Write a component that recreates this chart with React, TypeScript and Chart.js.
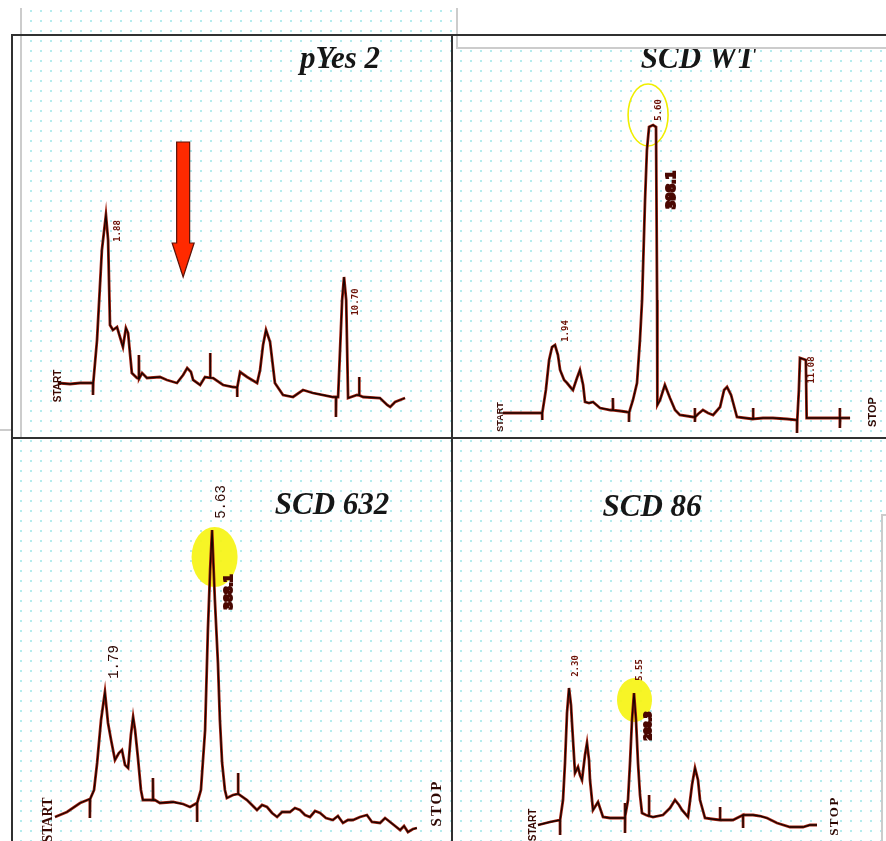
import { useEffect, useRef } from "react";
import { Chart, registerables } from "chart.js";

Chart.register(...registerables);

type Pair = [number, number];

// Chromatogram traces: [retention time (min), detector signal (mV)]
const pYes2Trace: Pair[] = [
  [0.1, 0.5], [0.55, 0.25], [0.92, 0.5], [1.4, 0.5], [1.4, -2.5], [1.41, 0.5],
  [1.55, 11.25], [1.73, 33.75], [1.88, 42.5], [1.96, 36.25], [2.03, 15], [2.14, 13.75],
  [2.29, 14.5], [2.4, 12], [2.51, 9.5], [2.62, 14.25], [2.7, 13], [2.84, 3], [3.03, 1.75],
  [3.1, 1.6], [3.1, 7.5], [3.11, 1.6], [3.22, 3], [3.4, 1.75], [3.88, 2], [4.14, 1.25],
  [4.51, 0.5], [4.74, 2.5], [4.89, 4.25], [5.03, 3.25], [5.11, 1.25], [5.37, 0], [5.55, 2],
  [5.74, 1.8], [5.74, 8], [5.75, 1.8], [5.85, 1.75], [6.22, 0], [6.59, -0.5], [6.74, -0.6],
  [6.74, -3], [6.75, -0.6], [6.85, 3.25], [7.11, 2], [7.48, 0.5], [7.59, 3.75], [7.7, 10],
  [7.81, 13.75], [7.96, 10.75], [8.14, 0.5], [8.44, -2.5], [8.81, -3], [9.18, -1.25],
  [9.55, -2], [10.29, -3], [10.4, -3], [10.4, -8], [10.41, -3], [10.48, -3], [10.63, 21.25],
  [10.7, 27], [10.78, 21.25], [10.85, -3.25], [11.18, -2.5], [11.26, -2.6], [11.26, 2],
  [11.27, -2.6], [11.41, -3], [12.03, -3.25], [12.3, -5], [12.41, -5.5], [12.59, -4.25],
  [12.96, -3.25],
];

const scdWtTrace: Pair[] = [
  [0, 0], [0.63, 0], [1.46, 0], [1.46, -1.75], [1.47, 0], [1.6, 5.75], [1.72, 13.25],
  [1.83, 16.5], [1.94, 17], [2.05, 14.5], [2.13, 10.75], [2.28, 8.25], [2.39, 7.5],
  [2.54, 6.25], [2.61, 5.75], [2.76, 8.75], [2.87, 10.75], [2.99, 7], [3.06, 2.75],
  [3.21, 2.5], [3.36, 2.75], [3.62, 1.25], [4.0, 0.75], [4.1, 0.7], [4.1, 3.75], [4.11, 0.7],
  [4.37, 0.5], [4.63, 0.25], [4.7, 0.2], [4.7, -2.25], [4.71, 0.2], [4.85, 3.25], [5.0, 7.5],
  [5.11, 18.25], [5.19, 28.25], [5.3, 53.25], [5.37, 65.75], [5.45, 71.5], [5.6, 72],
  [5.71, 71.5], [5.75, 28.25], [5.76, 2], [5.86, 3.25], [6.04, 7], [6.23, 3.75], [6.42, 0.75],
  [6.6, -0.5], [7.09, -1], [7.16, -1], [7.16, 1.25], [7.16, -2.25], [7.17, -1], [7.28, -0.25],
  [7.46, 0.75], [7.65, 0], [7.84, -0.5], [8.1, 1.5], [8.25, 5.75], [8.36, 6.5], [8.51, 4.5],
  [8.73, -1], [9.03, -1.25], [9.33, -1.5], [9.33, 1.25], [9.34, -1.5], [9.7, -1.25],
  [10.07, -1.25], [10.6, -1.5], [10.97, -1.75], [10.97, -5], [10.98, -1.75], [11.04, 5.75],
  [11.08, 13.75], [11.3, 13.25], [11.33, -1.25], [11.83, -1.25], [12.57, -1.25], [12.57, 1.25],
  [12.57, -3.75], [12.58, -1.25], [12.95, -1.25],
];

const scd632Trace: Pair[] = [
  [0, -3], [0.43, -1.75], [0.9, 0.5], [1.25, 1.5], [1.25, -3.25], [1.26, 1.5], [1.4, 3.75],
  [1.51, 10.5], [1.65, 21.25], [1.79, 28.25], [1.9, 20.5], [2.01, 16.25], [2.15, 11.25],
  [2.29, 13], [2.4, 13.75], [2.51, 10], [2.62, 9.25], [2.72, 17.5], [2.8, 22], [2.87, 18.75],
  [2.97, 12], [3.08, 3.75], [3.15, 1.25], [3.41, 1.25], [3.51, 1.2], [3.51, 6.75], [3.52, 1.2],
  [3.58, 1.25], [3.76, 0.5], [4.23, 0.75], [4.59, 0.25], [4.84, -0.5], [5.09, 0.5],
  [5.09, -4.25], [5.1, 0.5], [5.23, 3.75], [5.38, 18.75], [5.48, 43.75], [5.56, 58.75],
  [5.63, 68.75], [5.73, 51.25], [5.84, 35.5], [5.91, 21.25], [5.99, 10.5], [6.09, 3.75],
  [6.16, 1.75], [6.38, 2.5], [6.56, 2.8], [6.56, 8], [6.57, 2.8], [6.88, 1.25], [7.06, 0],
  [7.24, -1.25], [7.42, 0], [7.6, -0.5], [7.78, -2], [7.96, -3], [8.14, -1.75], [8.42, -1.75],
  [8.6, -0.75], [8.78, -1.25], [8.96, -2.5], [9.14, -3], [9.32, -1.5], [9.5, -2], [9.71, -3.25],
  [9.96, -3.75], [10.14, -2.75], [10.32, -4.5], [10.5, -3.75], [10.68, -3.75], [10.93, -3],
  [11.18, -2.5], [11.36, -4.25], [11.65, -4.5], [11.83, -3.25], [12.01, -4.25], [12.19, -5.25],
  [12.37, -6.25], [12.51, -5.25], [12.65, -6.75], [12.83, -6], [12.97, -5.75],
];

const scd86Trace: Pair[] = [
  [0.75, -1.75], [1.35, -1], [1.85, -0.5], [1.85, -4.25], [1.86, -0.5], [2.0, 4.5], [2.1, 13.75],
  [2.2, 26.25], [2.3, 32.5], [2.4, 28.25], [2.45, 23.75], [2.6, 11.25], [2.75, 12.75],
  [2.85, 10.75], [2.95, 9.5], [3.1, 15.75], [3.2, 18.75], [3.3, 14.5], [3.35, 9.5], [3.5, 2],
  [3.75, 4], [4.0, 0.25], [4.35, 0], [4.7, 0], [5.1, 0], [5.1, 3.75], [5.1, -3.75], [5.11, 0.5],
  [5.25, 4.5], [5.35, 13.75], [5.45, 24.5], [5.55, 31.25], [5.65, 24.5], [5.75, 13.75],
  [5.85, 5.75], [5.95, 1.25], [6.15, 0.75], [6.3, 0.5], [6.3, 5.75], [6.31, 0.5], [6.5, 0.25],
  [7.0, 0.75], [7.35, 2.5], [7.6, 4.5], [7.8, 3.25], [7.95, 2], [8.25, 0.25], [8.45, 8.25],
  [8.6, 12.5], [8.75, 9.5], [8.85, 4.5], [9.1, 0], [9.45, -0.25], [9.85, -0.5], [9.85, 2.75],
  [9.86, -0.5], [10.5, -0.5], [11.0, 0.75], [11.0, -2.5], [11.01, 0.75], [11.5, 0.75],
  [11.85, 0.5], [12.2, 0], [12.7, -1.25], [13.35, -2.25], [14.0, -2.25], [14.35, -1.75],
  [14.7, -1.75],
];

// Visible time / signal windows of each run
const pYes2TimeRange = [-1.6, 14.7];
const pYes2SignalRange = [-13.25, 87.5];
const scdWtTimeRange = [-1.903, 14.291];
const scdWtSignalRange = [-6.25, 94.5];
const scd632TimeRange = [-1.541, 14.229];
const scd632SignalRange = [-9, 91.75];
const scd86TimeRange = [-3.55, 18.15];
const scd86SignalRange = [-5.75, 95];

// Retention times printed by the integrator
const pYes2Peaks = [1.88, 10.7];
const scdWtPeaks = [1.94, 5.6, 11.08];
const scd632Peaks = [1.79, 5.63];
const scd86Peaks = [2.3, 5.55];

// Areas printed beside the main peak
const scdWtArea = "398.1";
const scd632Area = "388.1";
const scd86Area = "288.3";

const titles = ["pYes 2", "SCD WT", "SCD 632", "SCD 86"];

type Offset = { dx: number; dy: number };
type TextMark = Offset & { font: string; spacing?: number };
type Panel = {
  title: string;
  titlePos: [number, number];
  box: { left: number; top: number; width: number; height: number };
  trace: Pair[];
  xRange: number[];
  yRange: number[];
  peaks: number[];
  peakOffsets: Offset[];
  peakFont: string;
  area?: { t: number; text: string; dx: number; dy: number; font: string };
  ring?: { t: number; dx: number; dy: number; rx: number; ry: number; fill: boolean };
  start: TextMark;
  stop?: TextMark;
  arrow?: { t: number; tip: number; tail: number };
};

const tinyFont = 'bold 9px "DejaVu Sans Mono"';

const panels: Panel[] = [
  {
    title: titles[0],
    titlePos: [328, 25],
    box: { left: 12, top: 35, width: 440, height: 403 },
    trace: pYes2Trace,
    xRange: pYes2TimeRange,
    yRange: pYes2SignalRange,
    peaks: pYes2Peaks,
    peakOffsets: [{ dx: 12, dy: 16 }, { dx: 12, dy: 25 }],
    peakFont: tinyFont,
    start: { dx: 0, dy: 3, font: 'bold 10px "Liberation Sans"' },
    arrow: { t: 4.74, tip: 27, tail: 60.75 },
  },
  {
    title: titles[1],
    titlePos: [246, 25],
    box: { left: 452, top: 35, width: 434, height: 403 },
    trace: scdWtTrace,
    xRange: scdWtTimeRange,
    yRange: scdWtSignalRange,
    peaks: scdWtPeaks,
    peakOffsets: [{ dx: 11, dy: -14 }, { dx: 6, dy: -15 }, { dx: 12, dy: 12 }],
    peakFont: tinyFont,
    area: { t: 5.6, text: scdWtArea, dx: 19, dy: 65, font: 'bold 12px "DejaVu Sans"' },
    ring: { t: 5.6, dx: -5, dy: -10, rx: 20, ry: 31, fill: false },
    start: { dx: -2, dy: 4, font: 'bold 9px "Liberation Sans"' },
    stop: { dx: 23, dy: -6, font: 'bold 11px "Liberation Sans"' },
  },
  {
    title: titles[2],
    titlePos: [320, 68],
    box: { left: 12, top: 438, width: 440, height: 403 },
    trace: scd632Trace,
    xRange: scd632TimeRange,
    yRange: scd632SignalRange,
    peaks: scd632Peaks,
    peakOffsets: [{ dx: 9, dy: -30 }, { dx: 9, dy: -28 }],
    peakFont: '14px "Liberation Mono"',
    area: { t: 5.63, text: scd632Area, dx: 17, dy: 62, font: 'bold 11px "DejaVu Sans"' },
    ring: { t: 5.63, dx: 2.5, dy: 27, rx: 23, ry: 30, fill: true },
    start: { dx: -7, dy: 3, font: 'bold 14px "Liberation Serif"' },
    stop: { dx: 20, dy: -25, font: 'bold 15px "Liberation Serif"', spacing: 2 },
  },
  {
    title: titles[3],
    titlePos: [200, 70],
    box: { left: 452, top: 438, width: 434, height: 403 },
    trace: scd86Trace,
    xRange: scd86TimeRange,
    yRange: scd86SignalRange,
    peaks: scd86Peaks,
    peakOffsets: [{ dx: 7, dy: -22 }, { dx: 6, dy: -23 }],
    peakFont: tinyFont,
    area: { t: 5.55, text: scd86Area, dx: 15, dy: 33, font: 'bold 9px "DejaVu Sans"' },
    ring: { t: 5.55, dx: 0.5, dy: 7, rx: 17.5, ry: 22, fill: true },
    start: { dx: -5, dy: 0, font: 'bold 10px "Liberation Sans"' },
    stop: { dx: 18, dy: -9, font: 'bold 13px "Liberation Serif"', spacing: 1.5 },
  },
];

// highest signal recorded at a given retention time
function peakSignal(trace: Pair[], t: number): number {
  let best = -Infinity;
  for (const [x, y] of trace) if (Math.abs(x - t) < 0.006 && y > best) best = y;
  return best;
}

function rotated(
  ctx: CanvasRenderingContext2D,
  text: string,
  x: number,
  y: number,
  font: string,
  color: string,
  heavy = false,
  spacing = 0
) {
  ctx.save();
  ctx.translate(x, y);
  ctx.rotate(-Math.PI / 2);
  ctx.font = font;
  (ctx as any).letterSpacing = `${spacing}px`;
  ctx.textAlign = "center";
  ctx.textBaseline = "middle";
  ctx.fillStyle = color;
  if (heavy) {
    ctx.strokeStyle = color;
    ctx.lineWidth = 2;
    ctx.strokeText(text, 0, 0);
  }
  ctx.fillText(text, 0, 0);
  ctx.restore();
}

function decorPlugin(p: Panel) {
  const at = (chart: Chart, t: number, s: number): [number, number] => [
    chart.scales.x.getPixelForValue(t),
    chart.scales.y.getPixelForValue(s),
  ];
  return {
    id: "decor",
    beforeDatasetsDraw(chart: Chart) {
      const ctx = chart.ctx;
      if (p.ring) {
        const [x, y] = at(chart, p.ring.t, peakSignal(p.trace, p.ring.t));
        ctx.save();
        ctx.beginPath();
        ctx.ellipse(x + p.ring.dx, y + p.ring.dy, p.ring.rx, p.ring.ry, 0, 0, Math.PI * 2);
        if (p.ring.fill) {
          ctx.fillStyle = "rgba(246, 244, 20, 0.92)";
          ctx.fill();
        } else {
          ctx.strokeStyle = "#f0ee00";
          ctx.lineWidth = 1.6;
          ctx.stroke();
        }
        ctx.restore();
      }
    },
    afterDatasetsDraw(chart: Chart) {
      const ctx = chart.ctx;
      const ink = "#6b1005";
      p.peaks.forEach((t, i) => {
        const [x, y] = at(chart, t, peakSignal(p.trace, t));
        const o = p.peakOffsets[i];
        rotated(ctx, t.toFixed(2), x + o.dx, y + o.dy, p.peakFont, p.peakFont === tinyFont ? ink : "#2e0804");
      });
      if (p.area) {
        const [x, y] = at(chart, p.area.t, peakSignal(p.trace, p.area.t));
        rotated(ctx, p.area.text, x + p.area.dx, y + p.area.dy, p.area.font, "#4a0802", true);
      }
      const first = p.trace[0];
      const [sx, sy] = at(chart, first[0], first[1]);
      rotated(ctx, "START", sx + p.start.dx, sy + p.start.dy, p.start.font, "#3a0903", false, p.start.spacing || 0);
      if (p.stop) {
        const last = p.trace[p.trace.length - 1];
        const [ex, ey] = at(chart, last[0], last[1]);
        rotated(ctx, "STOP", ex + p.stop.dx, ey + p.stop.dy, p.stop.font, "#2e0803", false, p.stop.spacing || 0);
      }
      if (p.arrow) {
        const [ax, tipY] = at(chart, p.arrow.t, p.arrow.tip);
        const [, tailY] = at(chart, p.arrow.t, p.arrow.tail);
        const headLen = 34;
        const shaft = 6.5;
        const head = 11;
        ctx.save();
        ctx.beginPath();
        ctx.moveTo(ax - shaft, tailY);
        ctx.lineTo(ax + shaft, tailY);
        ctx.lineTo(ax + shaft, tipY - headLen);
        ctx.lineTo(ax + head, tipY - headLen);
        ctx.lineTo(ax, tipY);
        ctx.lineTo(ax - head, tipY - headLen);
        ctx.lineTo(ax - shaft, tipY - headLen);
        ctx.closePath();
        ctx.fillStyle = "#ff2a00";
        ctx.fill();
        ctx.strokeStyle = "#5a1208";
        ctx.lineWidth = 1.2;
        ctx.stroke();
        ctx.restore();
      }
      ctx.save();
      ctx.font = 'italic bold 31px "Liberation Serif"';
      ctx.fillStyle = "#161616";
      ctx.textAlign = "center";
      ctx.textBaseline = "middle";
      ctx.fillText(p.title, p.titlePos[0], p.titlePos[1]);
      ctx.restore();
    },
  };
}

function RunChart({ panel }: { panel: Panel }) {
  const ref = useRef<HTMLCanvasElement>(null);
  useEffect(() => {
    if (!ref.current) return;
    const points = panel.trace.map(([x, y]) => ({ x, y }));
    const chart = new Chart(ref.current, {
      type: "line",
      data: {
        datasets: [
          // dark pen core on top of a red-brown fringe
          { data: points, borderColor: "#160402", borderWidth: 1.3, pointRadius: 0, tension: 0, order: 0 },
          { data: points, borderColor: "#a0200e", borderWidth: 2.8, pointRadius: 0, tension: 0, order: 1 },
        ],
      },
      options: {
        animation: false,
        responsive: false,
        maintainAspectRatio: false,
        events: [],
        layout: { padding: 0 },
        plugins: { legend: { display: false }, tooltip: { enabled: false } },
        scales: {
          x: { type: "linear", min: panel.xRange[0], max: panel.xRange[1], display: false },
          y: { type: "linear", min: panel.yRange[0], max: panel.yRange[1], display: false },
        },
      },
      plugins: [decorPlugin(panel)],
    });
    return () => chart.destroy();
  }, [panel]);
  const { left, top, width, height } = panel.box;
  return (
    <canvas
      ref={ref}
      width={width}
      height={height}
      style={{ position: "absolute", left, top, width, height }}
    />
  );
}

const line = (left: number, top: number, width: number, height: number, color: string) => (
  <div style={{ position: "absolute", left, top, width, height, background: color }} />
);

export default function App() {
  const dark = "#303030";
  const gray = "#cccccc";
  return (
    <div
      style={{
        position: "fixed",
        left: 0,
        top: 0,
        width: 886,
        height: 841,
        background: "#ffffff",
        overflow: "hidden",
      }}
    >
      <div
        style={{
          position: "absolute",
          left: 20,
          top: 10,
          width: 866,
          height: 831,
          backgroundImage: "radial-gradient(circle at 1px 1px, #b4ecee 0.9px, transparent 1.4px)",
          backgroundSize: "10px 10px",
        }}
      />
      {line(458, 8, 428, 40, "#ffffff")}
      {line(883, 516, 3, 325, "#ffffff")}
      {line(13, 36, 7, 401, "#ffffff")}
      {panels.map((p) => (
        <RunChart key={p.title} panel={p} />
      ))}
      {line(20, 8, 2, 430, gray)}
      {line(456, 8, 2, 41, gray)}
      {line(456, 47, 430, 2, gray)}
      {line(881, 514, 2, 327, gray)}
      {line(881, 514, 5, 2, gray)}
      {line(0, 429, 12, 2, gray)}
      {line(11, 34, 875, 2, dark)}
      {line(11, 34, 2, 807, dark)}
      {line(451, 34, 2, 807, dark)}
      {line(11, 437, 875, 2, dark)}
    </div>
  );
}
